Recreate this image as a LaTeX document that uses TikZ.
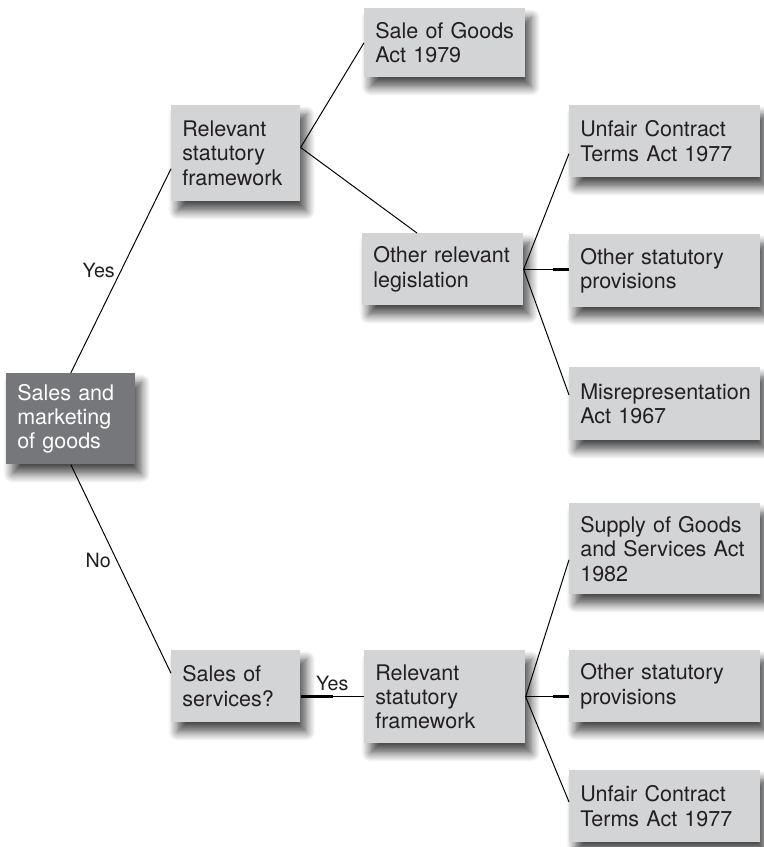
\documentclass[tikz,border=0pt]{standalone}
\usepackage{fontspec}
\setsansfont{TeX Gyre Heros}
\usetikzlibrary{calc,shadows.blur}
\definecolor{boxgrey}{RGB}{211,212,214}
\definecolor{rootgrey}{RGB}{118,119,123}
\definecolor{inkgrey}{RGB}{35,31,32}
\tikzset{
	box/.style={fill=boxgrey, anchor=north west, align=left, inner xsep=0.275cm, inner ysep=0pt,
		text=inkgrey, font=\sffamily\fontsize{15.3}{17.4}\selectfont,
		blur shadow={shadow xshift=0.15cm, shadow yshift=-0.24cm, shadow blur radius=0.22cm, shadow blur steps=10, shadow opacity=70}},
	narrow/.style={box, minimum width=3.225cm, text width=2.675cm},
	wide/.style={box, minimum width=4.025cm, text width=3.475cm},
	leaf/.style={box, minimum width=4.775cm, text width=4.225cm},
	root/.style={narrow, fill=rootgrey, text=white},
	link/.style={line width=0.7pt, black},
	stub/.style={line width=2pt, black},
	answer/.style={font=\sffamily\fontsize{14}{16}\selectfont, text=inkgrey, inner sep=4pt}
}
\hyphenpenalty=10000

\begin{document}
\begin{tikzpicture}[x=0.025cm, y=-0.025cm]
		%%%%% START %%%%%
		\useasboundingbox (0, 0) rectangle (763, 847);
		
		\node[root, minimum height=2.275cm] (sales) at (6, 373) {Sales and\\marketing\\of goods};
		
		% goods branch
		\node[narrow, minimum height=2.4cm] (rel1) at (171, 105) {Relevant\\statutory\\framework};
		\node[wide, minimum height=1.725cm] (sga) at (364, 8) {Sale of Goods\\Act 1979};
		\node[wide, minimum height=1.8cm] (other) at (362, 233) {Other relevant\\legislation};
		\node[leaf, minimum height=1.8cm] (ucta1) at (569, 105) {Unfair Contract\\Terms Act 1977};
		\node[leaf, minimum height=1.825cm] (osp1) at (569, 234) {Other statutory\\provisions};
		\node[leaf, minimum height=1.825cm] (misrep) at (569, 367) {Misrepresentation\\Act 1967};
		
		% services branch
		\node[narrow, minimum height=1.8cm] (sos) at (171, 650) {Sales of\\services?};
		\node[wide, minimum height=2.325cm] (rel2) at (364, 650) {Relevant\\statutory\\framework};
		\node[leaf, minimum height=2.275cm] (sgsa) at (569, 503) {Supply of Goods\\and Services Act\\1982};
		\node[leaf, minimum height=1.8cm] (osp2) at (569, 650) {Other statutory\\provisions};
		\node[leaf, minimum height=1.8cm] (ucta2) at (569, 770) {Unfair Contract\\Terms Act 1977};
		
		\draw[link] (sales.north) -- node[answer, left] {Yes} ($(rel1.north west)!0.66!(rel1.south west)$);
		\draw[link] (sales.south) -- node[answer, left, pos=0.46] {No} ($(sos.north west)!0.32!(sos.south west)$);
		
		\draw[link] ($(rel1.north east)!0.44!(rel1.south east)$) -- (sga.west);
		\draw[link] ($(rel1.north east)!0.44!(rel1.south east)$) -- ($(other.north west)!0.34!(other.north east)$);
		
		\draw[link] (other.east) -- ($(ucta1.north west)!0.67!(ucta1.south west)$);
		\draw[link] (other.east) -- (other.east -| osp1.west);
		\draw[link] (other.east) -- ($(misrep.north west)!0.38!(misrep.south west)$);
		\draw[stub] ($(other.east -| osp1.west)+(-16, 0)$) -- (other.east -| osp1.west);
		
		\draw[link] (rel2.west -| sos.east) -- node[answer, above] {Yes} (rel2.west);
		\draw[stub] (rel2.west -| sos.east) -- ++(32, 0);
		
		\draw[link] (rel2.east) -- ($(sgsa.north west)!0.62!(sgsa.south west)$);
		\draw[link] (rel2.east) -- (rel2.east -| osp2.west);
		\draw[link] (rel2.east) -- ($(ucta2.north west)!0.44!(ucta2.south west)$);
		\draw[stub] ($(rel2.east -| osp2.west)+(-16, 0)$) -- (rel2.east -| osp2.west);
		%%%%% END %%%%%
\end{tikzpicture}
\end{document}
